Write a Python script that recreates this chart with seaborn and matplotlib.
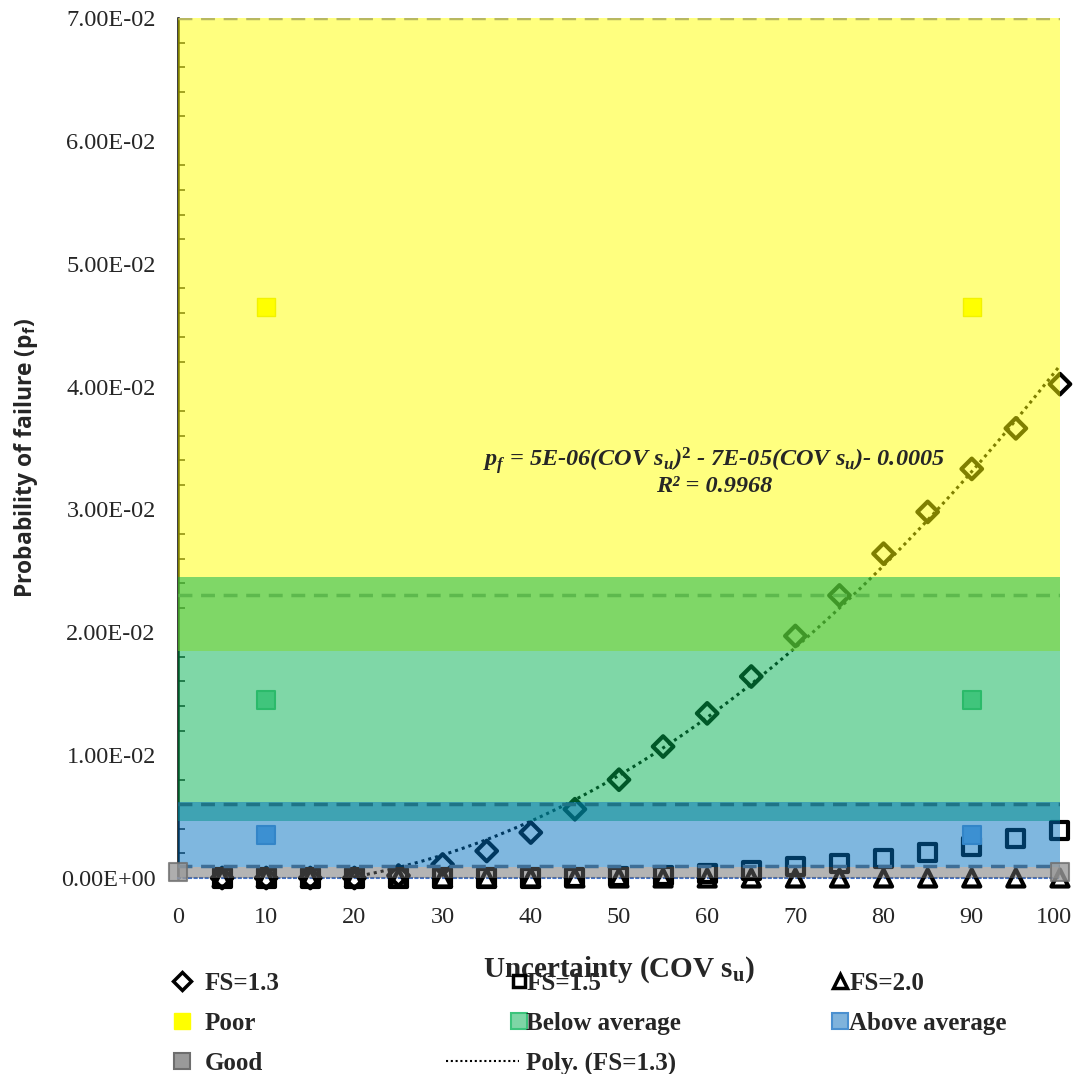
import numpy as np
import pandas as pd
import seaborn as sns
import matplotlib.pyplot as plt
import matplotlib.transforms as mtransforms
from matplotlib.lines import Line2D
from matplotlib.legend_handler import HandlerLine2D

# data
cov = [5, 10, 15, 20, 25, 30, 35, 40, 45, 50, 55, 60, 65, 70, 75, 80, 85, 90, 95, 100]
pf_13 = [0, 0, 0, 0, 0.0002, 0.0011, 0.0022, 0.0037, 0.0056, 0.0080, 0.0107, 0.0134,
         0.0164, 0.0197, 0.0230, 0.0264, 0.0298, 0.0333, 0.0366, 0.0402]
pf_15 = [0, 0, 0, 0, 0, 0, 0, 0, 0.00005, 0.0001, 0.0002, 0.0004, 0.0006, 0.0009,
         0.0012, 0.00155, 0.0021, 0.0026, 0.0032, 0.0039]
pf_20 = [0, 0, 0, 0, 0, 0, 0, 0, 0, 0, 0, 0, 0, 0, 0, 0, 0, 0, 0, 0]

# performance level markers
level_x = [10, 90]
poor_y = [0.0465, 0.0465]
below_y = [0.0145, 0.0145]
above_y = [0.0035, 0.0035]
good_x = [0, 100]
good_y = [0.0005, 0.0005]

# performance bands (lower, upper) and their limit lines
band_names = ["Poor", "Below average", "Above average", "Good"]
band_low = [0.0185, 0.0046, 0.0009, 0.0]
band_high = [0.07, 0.0245, 0.0062, 0.0009]
band_colors = ["#FFFF00", "#00B050", "#0070C0", "#6A6A6A"]
limit_vals = [0.07, 0.023, 0.006, 0.001]
limit_colors = ["#B8B860", "#5DB94D", "#1F7486", "#3E6E96"]

yticks = [0, 0.01, 0.02, 0.03, 0.04, 0.05, 0.06, 0.07]
xticks = [0, 10, 20, 30, 40, 50, 60, 70, 80, 90, 100]


class RightMarker(HandlerLine2D):
    # put the legend marker towards the right end of the handle, like Excel does
    def __init__(self, frac, **kw):
        super().__init__(**kw)
        self.frac = frac

    def get_xdata(self, legend, xdescent, ydescent, width, height, fontsize):
        m = -xdescent + width * self.frac
        return np.array([m - 1, m + 1]), np.array([m])


sns.set_style("white")
plt.rcParams["font.family"] = ["Liberation Serif", "DejaVu Sans"]
plt.rcParams["mathtext.fontset"] = "custom"
plt.rcParams["mathtext.rm"] = "Liberation Serif:bold"
plt.rcParams["mathtext.it"] = "Liberation Serif:bold:italic"
plt.rcParams["mathtext.sf"] = "Open Sans:bold"

fig = plt.figure(figsize=(10.75, 10.74), dpi=100)
ax = fig.add_axes([0.1656, 0.1825, 0.8204, 0.8007])

df = pd.DataFrame({"cov": cov, "fs13": pf_13, "fs15": pf_15, "fs20": pf_20})

sns.scatterplot(data=df, x="cov", y="fs20", marker="^", s=150, facecolor="none",
                edgecolor="black", linewidth=3, clip_on=False, zorder=3, ax=ax)
sns.scatterplot(data=df, x="cov", y="fs15", marker="s", s=150, facecolor="none",
                edgecolor="black", linewidth=3, clip_on=False, zorder=3, ax=ax)
sns.scatterplot(data=df, x="cov", y="fs13", marker="D", s=110, facecolor="none",
                edgecolor="black", linewidth=3, clip_on=False, zorder=3, ax=ax)

# polynomial trendline for FS=1.3
coef = np.polyfit(cov, pf_13, 2)
xs = np.linspace(0, 100, 300)
trend = pd.DataFrame({"x": xs, "y": np.polyval(coef, xs)})
sns.lineplot(data=trend, x="x", y="y", color="black", linestyle=(0, (1, 1.3)),
             linewidth=2.2, zorder=3, ax=ax)

# bands drawn over the series, semi transparent
for lo, hi, c in zip(band_low, band_high, band_colors):
    ax.fill_between([0, 100], [lo, lo], [hi, hi], color=c, alpha=0.5, linewidth=0, zorder=4)
for v, c in zip(limit_vals, limit_colors):
    ax.axhline(v, color=c, linestyle=(0, (4, 2.5)), linewidth=2.5, zorder=4.5)

sns.scatterplot(x=level_x, y=poor_y, marker="s", s=170, color="#FFFF00", edgecolor="#F2F200",
                linewidth=1, zorder=5, ax=ax)
sns.scatterplot(x=level_x, y=below_y, marker="s", s=170, color="#40C57C", edgecolor="#2BBA6A",
                linewidth=1.5, zorder=5, ax=ax)
sns.scatterplot(x=level_x, y=above_y, marker="s", s=170, color="#3C90D2", edgecolor="#3385C8",
                linewidth=1.5, zorder=5, ax=ax)
sns.scatterplot(x=good_x, y=good_y, marker="s", s=170, color="#9A9A9A", edgecolor="#6E6E6E",
                linewidth=1.5, alpha=0.8, clip_on=False, zorder=5, ax=ax)

ax.set_xlim(0, 100)
ax.set_ylim(0, 0.07)
ax.set_xticks(xticks)
ax.set_yticks(yticks)
ax.set_yticks(np.arange(0, 0.0701, 0.002), minor=True)
ax.set_yticklabels([f"{v:.2E}" for v in yticks], fontsize=17.5)
ax.set_xticklabels([str(v) for v in xticks], fontsize=17.5)
ax.tick_params(axis="y", which="major", direction="in", length=7, width=1.5, pad=16)
ax.tick_params(axis="y", which="minor", direction="in", length=5, width=1.2, left=True)
ax.tick_params(axis="x", length=0, pad=21)
last = ax.get_xticklabels()[-1]
last.set_transform(last.get_transform() + mtransforms.ScaledTranslation(-0.06, 0, fig.dpi_scale_trans))

for s in ["top", "right"]:
    ax.spines[s].set_visible(False)
ax.spines["left"].set_linewidth(1.8)
ax.spines["left"].set_color("black")
ax.spines["bottom"].set_color("#4472C4")
ax.spines["bottom"].set_linestyle(":")
ax.spines["bottom"].set_linewidth(1.5)

ax.set_xlabel(r"Uncertainty (COV s$_{\mathrm{u}}$)", fontsize=21, fontweight="bold", labelpad=19)
ax.set_ylabel(r"Probability of failure (p$_{\mathsf{f}}$)", fontsize=16.5, fontweight="bold",
              family="Open Sans")
ax.yaxis.set_label_coords(-0.157, 0.488)

ax.text(60.8, 0.0331,
        r"$p_f$ = 5E-06(COV $s_u$)$^{\mathit{2}}$ - 7E-05(COV $s_u$)- 0.0005" + "\n" + "R² = 0.9968",
        fontsize=17.5, fontweight="bold", fontstyle="italic", ha="center", va="center",
        linespacing=1.0, zorder=6)

# legend, three columns placed separately
col1 = ([Line2D([], [], marker="D", ls="none", mfc="none", mec="black", mew=2.5, ms=9),
         Line2D([], [], marker="s", ls="none", mfc="#FFFF00", mec="#FFFF00", ms=11),
         Line2D([], [], marker="s", ls="none", mfc="#9A9A9A", mec="#6E6E6E", mew=1.5, ms=11)],
        ["FS=1.3", "Poor", "Good"], 0.1158, 0.8)
col2 = ([Line2D([], [], marker="s", ls="none", mfc="none", mec="black", mew=2.5, ms=9),
         Line2D([], [], marker="s", ls="none", mfc="#7ED6A6", mec="#3CC47C", mew=1.5, ms=11),
         Line2D([], [], color="black", ls=(0, (1, 1.3)), lw=1.5)],
        ["FS=1.5", "Below average", "Poly. (FS=1.3)"], 0.4153, 1.0)
col3 = ([Line2D([], [], marker="^", ls="none", mfc="none", mec="black", mew=2.5, ms=10),
         Line2D([], [], marker="s", ls="none", mfc="#7FB3DC", mec="#4A90D0", mew=1.5, ms=11)],
        ["FS=2.0", "Above average"], 0.7158, 0.97)
for hs, ls, x0, frac in [col1, col2, col3]:
    hmap = {h: RightMarker(frac) for h in hs if h.get_marker() not in (None, "None", "none", "")}
    fig.legend(hs, ls, loc="upper left", bbox_to_anchor=(x0, 0.095), frameon=False,
               prop={"family": "Liberation Serif", "weight": "bold", "size": 18},
               handlelength=2.9, handletextpad=0.3, labelspacing=0.68,
               borderpad=0, borderaxespad=0, handler_map=hmap)

fig.savefig("out.png", dpi=100)
